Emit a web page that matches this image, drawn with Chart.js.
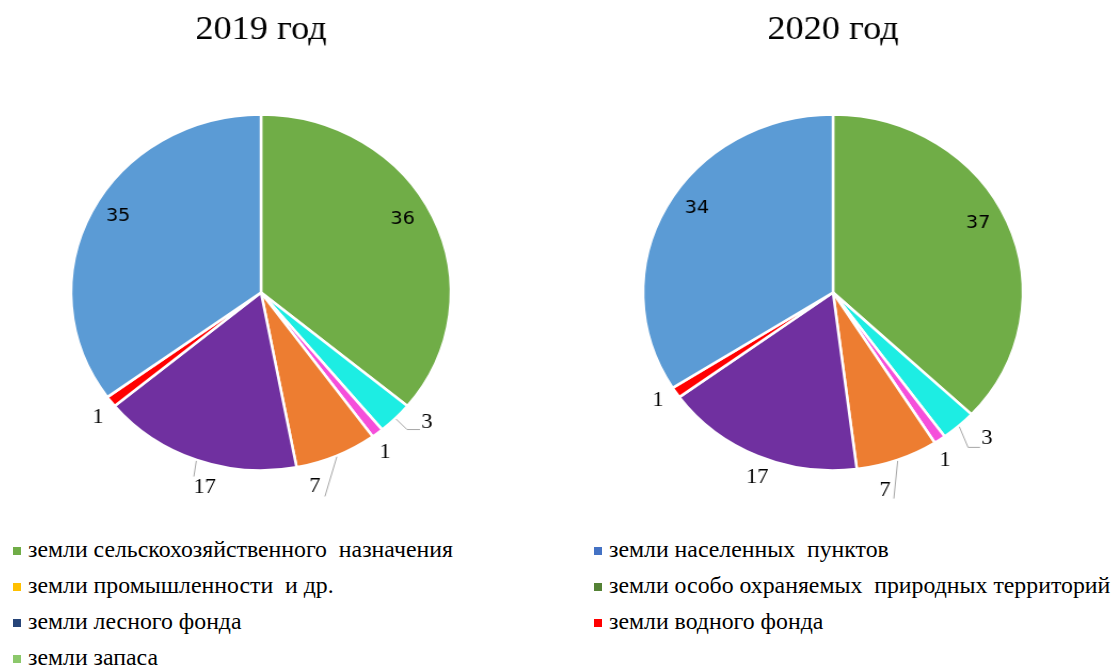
<!DOCTYPE html>
<html lang="ru">
<head>
<meta charset="utf-8">
<script src="https://cdn.jsdelivr.net/npm/chart.js@4.4.1/dist/chart.umd.min.js"></script>
<style>
  html, body { margin: 0; padding: 0; background: #fff; }
  body { width: 1114px; height: 666px; position: relative; overflow: hidden; }
  /* pies are drawn slightly wider than tall */
  .pie { position: absolute; top: 0; transform: scaleX(1.067); transform-origin: 50% 50%; }
  #pie2019 { left: 0; }
  #pie2020 { left: 557px; }
  .legend-item { position: absolute; height: 36px; font: 23.8px "Liberation Serif", serif; line-height: 36px; white-space: pre; color: #000; }
  .legend-item i { position: absolute; left: -15px; top: 16px; width: 8px; height: 8px; }
</style>
</head>
<body>
<canvas id="pie2019" class="pie" width="522" height="520"></canvas>
<canvas id="pie2020" class="pie" width="552" height="520"></canvas>
<div id="legend"></div>
<script>
// Land categories, shares in %
const years = ['2019 год', '2020 год'];
const sliceNames = [
  'земли сельскохозяйственного назначения',
  'земли запаса',
  'земли особо охраняемых природных территорий',
  'земли промышленности и др.',
  'земли лесного фонда',
  'земли водного фонда',
  'земли населенных пунктов'
];
const values2019 = [36, 3, 1, 7, 17, 1, 35];
const values2020 = [37, 3, 1, 7, 17, 1, 34];
const sliceColors = ['#70AD47', '#1DEDE3', '#F54FDB', '#ED7D31', '#7030A0', '#FF0000', '#5B9BD5'];

// Legend under both pies
const legendLabels = [
  'земли сельскохозяйственного  назначения',
  'земли населенных  пунктов',
  'земли промышленности  и др.',
  'земли особо охраняемых  природных территорий',
  'земли лесного фонда',
  'земли водного фонда',
  'земли запаса'
];
const legendColors = ['#70AD47', '#4472C4', '#FFC000', '#548235', '#264478', '#FF0000', '#8CC86B'];

// Value label placement: [angle shift in degrees, distance as share of radius]
const labelPlace2019 = [[-3.6, 0.851], [-5.1, 1.139], [1.8, 1.111], [8.8, 1.126], [-4.7, 1.135], [-1.5, 1.109], [2.6, 0.865]];
const labelPlace2020 = [[-3.5, 0.856], [-3.3, 1.153], [2.2, 1.112], [6.0, 1.146], [-2.4, 1.113], [0.8, 1.103], [4.6, 0.858]];
// Leader lines: points as offsets from the label centre
const leaders2019 = { 1: [[-18.7, 7], [-6.6, 7]], 3: [[9.4, 10]], 4: [[-10.3, -11]] };
const leaders2020 = { 1: [[-17.8, 9], [-6.6, 9]], 3: [[8.4, 8]] };

function makeLabels(place, leaders) {
  return {
    id: 'sliceLabels',
    afterDatasetsDraw(chart) {
      const ctx = chart.ctx;
      const meta = chart.getDatasetMeta(0);
      const values = chart.data.datasets[0].data;
      ctx.save();
      meta.data.forEach((arc, i) => {
        const { x, y, startAngle, endAngle, outerRadius } =
          arc.getProps(['x', 'y', 'startAngle', 'endAngle', 'outerRadius'], true);
        const mid = (startAngle + endAngle) / 2;
        const [shift, dist] = place[i];
        const a = mid + shift * Math.PI / 180;
        const lx = x + Math.cos(a) * outerRadius * dist;
        const ly = y + Math.sin(a) * outerRadius * dist;

        const line = leaders[i];
        if (line) {
          ctx.beginPath();
          ctx.moveTo(x + Math.cos(mid) * (outerRadius + 1), y + Math.sin(mid) * (outerRadius + 1));
          line.forEach(([dx, dy]) => ctx.lineTo(lx + dx, ly + dy));
          ctx.strokeStyle = '#A6A6A6';
          ctx.lineWidth = 1;
          ctx.stroke();
        }

        ctx.font = dist < 1 ? '18px "DejaVu Sans", sans-serif' : '21px "Liberation Serif", serif';
        ctx.fillStyle = '#000';
        ctx.textAlign = 'center';
        ctx.textBaseline = 'middle';
        ctx.fillText(String(values[i]), lx, ly);
      });
      ctx.restore();
    }
  };
}

function makePie(canvasId, title, values, place, leaders) {
  return new Chart(document.getElementById(canvasId), {
    type: 'pie',
    data: {
      labels: sliceNames,
      datasets: [{
        data: values,
        backgroundColor: sliceColors,
        borderColor: '#fff',
        borderWidth: 2.5,
        radius: 178
      }]
    },
    options: {
      responsive: false,
      animation: false,
      layout: { padding: { top: 0, bottom: 3.8, left: 0, right: 0 } },
      plugins: {
        legend: { display: false },
        tooltip: { enabled: false },
        title: {
          display: true,
          text: title,
          color: '#000',
          font: { family: '"Liberation Serif", serif', size: 34, weight: 'normal' },
          padding: { top: 10, bottom: 18 }
        }
      }
    },
    plugins: [makeLabels(place, leaders)]
  });
}

makePie('pie2019', years[0], values2019, labelPlace2019, leaders2019);
makePie('pie2020', years[1], values2020, labelPlace2020, leaders2020);

// HTML legend, two columns
const legendBox = document.getElementById('legend');
legendLabels.forEach((text, i) => {
  const item = document.createElement('div');
  item.className = 'legend-item';
  item.style.left = (i % 2 === 0 ? 28 : 609) + 'px';
  item.style.top = (531 + Math.floor(i / 2) * 36) + 'px';
  const mark = document.createElement('i');
  mark.style.background = legendColors[i];
  item.appendChild(mark);
  item.appendChild(document.createTextNode(text));
  legendBox.appendChild(item);
});
</script>
</body>
</html>
